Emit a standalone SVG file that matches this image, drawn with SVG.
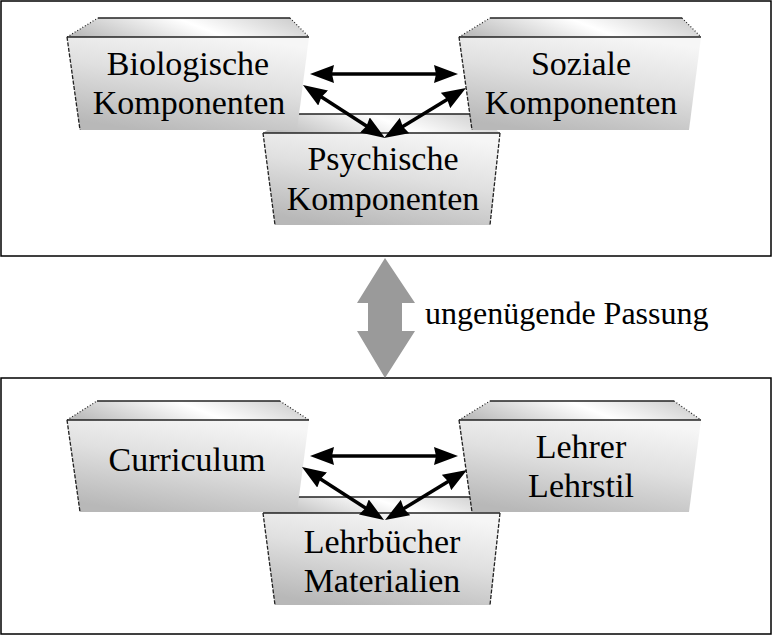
<svg xmlns="http://www.w3.org/2000/svg" width="773" height="637" viewBox="0 0 773 637">
<defs>
<linearGradient id="gFront" x1="0.7" y1="0" x2="0.3" y2="1">
<stop offset="0" stop-color="#f6f6f6"/>
<stop offset="0.45" stop-color="#e0e0e0"/>
<stop offset="1" stop-color="#b8b8b8"/>
</linearGradient>
<linearGradient id="gTop" x1="0" y1="0.6" x2="1" y2="0.4">
<stop offset="0" stop-color="#bdbdbd"/>
<stop offset="0.55" stop-color="#ffffff"/>
<stop offset="0.8" stop-color="#e4e4e4"/>
<stop offset="1" stop-color="#cfcfcf"/>
</linearGradient>
<marker id="ah" viewBox="0 0 24 18" refX="13" refY="9" markerWidth="24" markerHeight="18" markerUnits="userSpaceOnUse" orient="auto-start-reverse">
<path d="M0,0 L24,9 L0,18 L2,9 z" fill="#000"/>
</marker>
</defs>
<style>
.frame{fill:#fff;stroke:#000;stroke-width:1.5}
.top{fill:url(#gTop)}
.front{fill:url(#gFront)}
.edge{fill:none;stroke:#222;stroke-width:1.3}
.dash{fill:none;stroke:#222;stroke-width:1.3;stroke-dasharray:4 1.5}
.dot{fill:none;stroke:#222;stroke-width:1.2;stroke-dasharray:1 2}
.lbl{font-family:"Liberation Serif","Times New Roman",serif;font-size:34px;fill:#000;text-anchor:middle}
.note{font-family:"Liberation Serif","Times New Roman",serif;font-size:32px;fill:#000}
.conn{fill:none;stroke:#000;stroke-width:3.5;marker-start:url(#ah);marker-end:url(#ah)}
</style>
<rect class="frame" x="1" y="1" width="770" height="255"/>
<rect class="frame" x="1" y="378" width="770" height="256"/>

<g id="psychische">
<polygon class="top" points="290,114 478,114 500,133 263,133"/>
<polygon class="front" points="263,133 500,133 490,225 275,225"/>
<line class="edge" x1="290" y1="114" x2="478" y2="114"/>
<line class="edge" x1="263" y1="133" x2="500" y2="133"/>
<line class="dash" x1="263" y1="133" x2="275" y2="225"/>
<line class="dash" x1="500" y1="133" x2="490" y2="225"/>
<text class="lbl" x="383" y="170">Psychische</text>
<text class="lbl" x="383" y="210">Komponenten</text>
</g>

<g id="biologische">
<polygon class="top" points="98,18 290,18 309,37 67,37"/>
<polygon class="front" points="67,37 309,37 297,130 80,130"/>
<line class="edge" x1="98" y1="18" x2="290" y2="18"/>
<line class="dot" x1="67" y1="37" x2="98" y2="18"/>
<line class="dot" x1="290" y1="18" x2="309" y2="37"/>
<line class="edge" x1="67" y1="37" x2="309" y2="37"/>
<line class="dash" x1="67" y1="37" x2="80" y2="130"/>
<text class="lbl" x="188" y="75">Biologische</text>
<text class="lbl" x="189" y="114">Komponenten</text>
</g>

<g id="soziale">
<polygon class="top" points="490,18 682,18 701,37 459,37"/>
<polygon class="front" points="459,37 701,37 689,130 472,130"/>
<line class="edge" x1="490" y1="18" x2="682" y2="18"/>
<line class="dot" x1="459" y1="37" x2="490" y2="18"/>
<line class="dot" x1="682" y1="18" x2="701" y2="37"/>
<line class="edge" x1="459" y1="37" x2="701" y2="37"/>
<line class="dash" x1="459" y1="37" x2="472" y2="130"/>
<text class="lbl" x="581" y="75">Soziale</text>
<text class="lbl" x="581" y="114">Komponenten</text>
</g>

<g id="lehrbuecher">
<polygon class="top" points="290,497 478,497 500,513 263,513"/>
<polygon class="front" points="263,513 500,513 490,605 275,605"/>
<line class="edge" x1="290" y1="497" x2="478" y2="497"/>
<line class="edge" x1="263" y1="513" x2="500" y2="513"/>
<line class="dash" x1="263" y1="513" x2="275" y2="605"/>
<line class="dash" x1="500" y1="513" x2="490" y2="605"/>
<text class="lbl" x="382" y="553">Lehrbücher</text>
<text class="lbl" x="382" y="592">Materialien</text>
</g>

<g id="curriculum">
<polygon class="top" points="97,401 280,401 309,420 67,420"/>
<polygon class="front" points="67,420 309,420 297,512 80,512"/>
<line class="edge" x1="97" y1="401" x2="280" y2="401"/>
<line class="dot" x1="67" y1="420" x2="97" y2="401"/>
<line class="dot" x1="280" y1="401" x2="309" y2="420"/>
<line class="edge" x1="67" y1="420" x2="309" y2="420"/>
<line class="dash" x1="67" y1="420" x2="80" y2="512"/>
<text class="lbl" x="187" y="471">Curriculum</text>
</g>

<g id="lehrer">
<polygon class="top" points="490,401 674,401 701,420 459,420"/>
<polygon class="front" points="459,420 701,420 689,512 472,512"/>
<line class="edge" x1="490" y1="401" x2="674" y2="401"/>
<line class="dot" x1="459" y1="420" x2="490" y2="401"/>
<line class="dot" x1="674" y1="401" x2="701" y2="420"/>
<line class="edge" x1="459" y1="420" x2="701" y2="420"/>
<line class="dash" x1="459" y1="420" x2="472" y2="512"/>
<text class="lbl" x="581" y="458">Lehrer</text>
<text class="lbl" x="581" y="497">Lehrstil</text>
</g>

<g id="connectors">
<line class="conn" x1="321" y1="74" x2="447" y2="74"/>
<line class="conn" x1="312.2" y1="91" x2="375.8" y2="132"/>
<line class="conn" x1="456.6" y1="93.7" x2="393.4" y2="132.3"/>
<line class="conn" x1="321" y1="456" x2="447" y2="456"/>
<line class="conn" x1="311.2" y1="473" x2="374.8" y2="514"/>
<line class="conn" x1="457.6" y1="475.7" x2="394.4" y2="514.3"/>
<polygon points="385,258 415,303 402,303 402,331 415,331 385,378 357,331 368,331 368,303 357,303" fill="#9a9a9a"/>
</g>
<text class="note" x="425" y="324">ungenügende Passung</text>
</svg>
